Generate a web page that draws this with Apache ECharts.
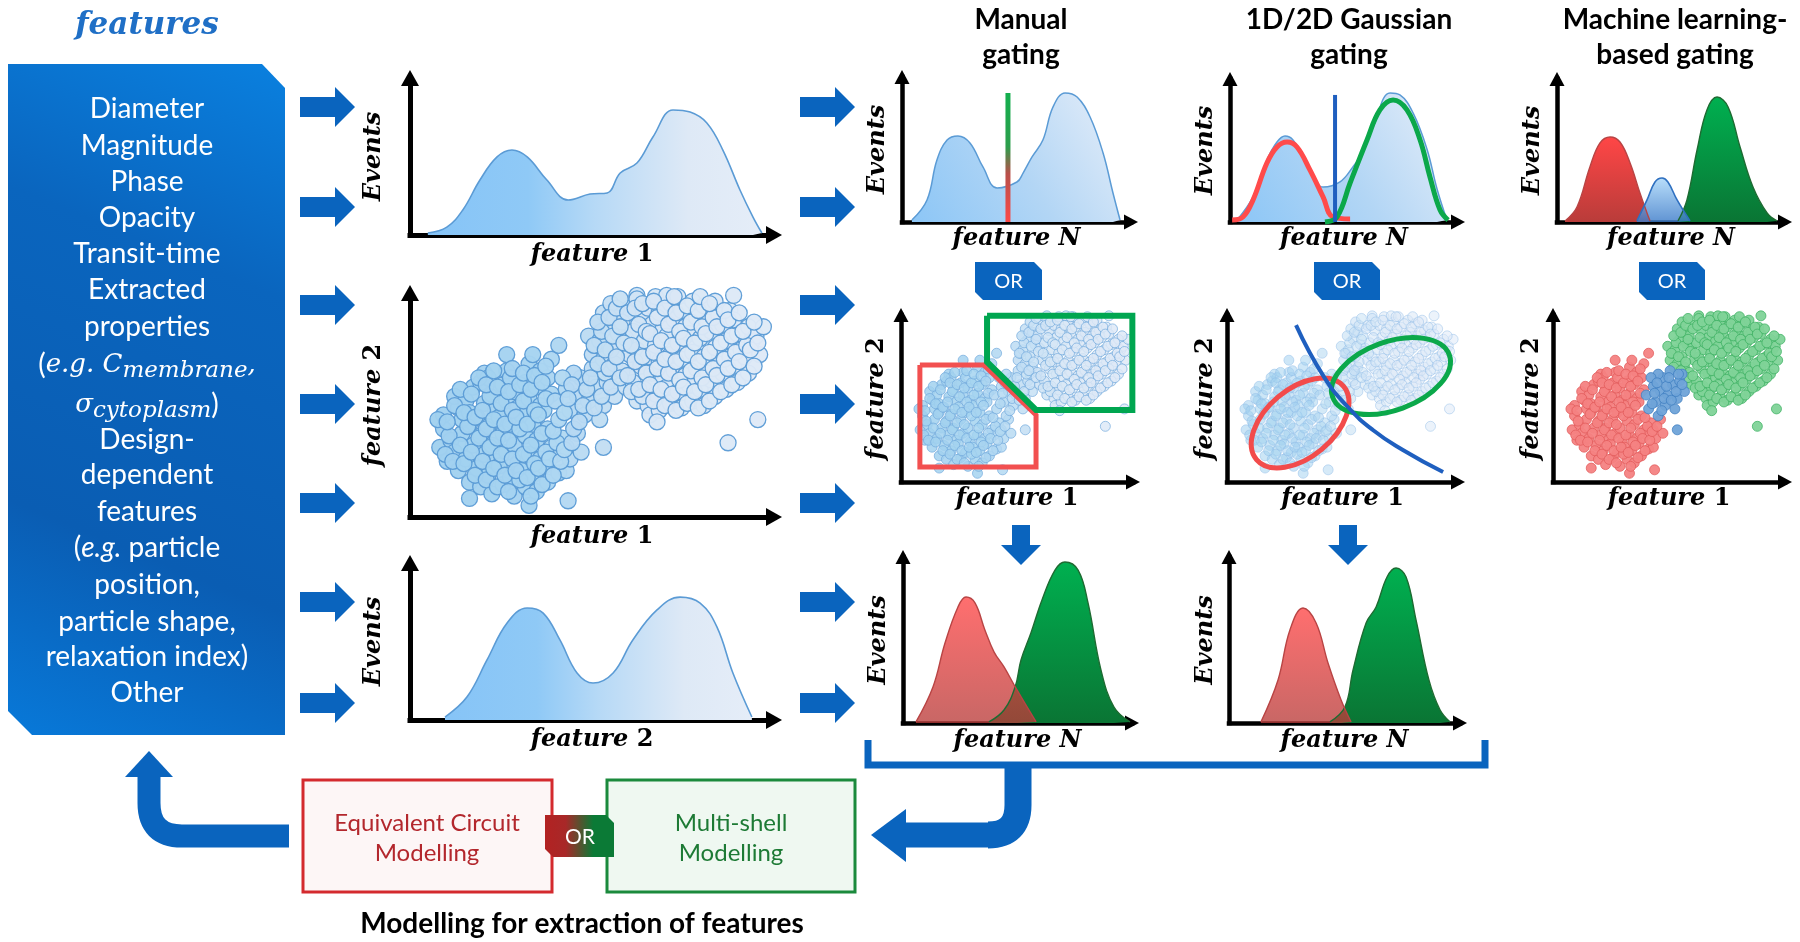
<!DOCTYPE html>
<html><head><meta charset="utf-8">
<script src="https://cdn.jsdelivr.net/npm/echarts@6/dist/echarts.min.js"></script>
<style>html,body{margin:0;padding:0;background:#fff}#c{width:1800px;height:942px}</style>
</head><body><div id="c"></div>
<script>
// ================= DATA =================
const featureLines = ['Diameter','Magnitude','Phase','Opacity','Transit-time','Extracted','properties',
  '{r|(}{m|e.g. C}{s|membrane}{m|,}','{m|σ}{s|cytoplasm}{r|)}','Design-','dependent','features',
  '{r|(}{it|e.g.}{r| particle}','position,','particle shape,','relaxation index)','Other'];
const columnTitles = [['Manual','gating'],['1D/2D Gaussian','gating'],['Machine learning-','based gating']];
const modelBoxes = [['Equivalent Circuit','Modelling'],['Multi-shell','Modelling']];
const modelCaption = 'Modelling for extraction of features';

// density curves [x, y] (x,y in % of axis length)
const hist1 = [[4.8,1.2],[9.9,4.8],[14.2,15.2],[18.8,33.3],[23.4,47.3],[27.4,51.5],[31.5,47.3],[36.8,33.3],[42.5,21.2],[48.4,24.8],[53.0,25.5],[56.5,37.6],[61.0,43.6],[65.3,59.4],[70.7,75.8],[75.3,74.5],[79.8,67.9],[84.1,51.5],[88.7,27.3],[92.2,10.9],[94.6,1.2]];
const hist2 = [[9.4,1.8],[15.3,13.9],[20.7,36.4],[26.1,58.8],[31.5,67.9],[35.8,64.8],[40.3,48.5],[44.9,28.5],[49.2,22.4],[54.6,28.5],[59.9,48.5],[66.4,66.7],[72.6,74.5],[78.0,70.9],[82.5,56.4],[86.8,28.5],[91.9,1.8]];
const histManual = [[4.2,1.3],[10.6,14.5],[14.8,40.8],[19.1,53.9],[23.7,56.6],[28.8,52.0],[34.3,36.2],[40.3,22.4],[48.7,26.3],[51.3,32.2],[55.1,42.8],[59.7,53.9],[64.0,75.7],[69.1,84.9],[74.2,82.2],[79.7,69.1],[85.2,45.4],[89.4,19.1],[92.4,1.3]];
const gateManual = [[44.9,0],[44.9,84.9]];
const histGauss = [[3.0,1.3],[9.8,16.7],[15.7,41.3],[20.0,53.3],[23.4,57.3],[26.8,54.7],[32.8,39.3],[39.6,23.3],[46.8,26.7],[52.3,36.7],[56.2,46.0],[60.9,63.3],[68.1,86.0],[72.3,84.7],[77.9,72.7],[83.8,48.7],[88.1,22.0],[92.3,1.3]];
const fitRed = [[0.9,1.3],[5.5,3.3],[9.8,14.7],[15.7,39.3],[20.0,50.0],[24.3,53.3],[28.5,50.0],[34.0,34.7],[39.6,16.7],[43.8,3.3],[51.1,2.0]];
const fitGreen = [[40.4,0],[45.5,3.3],[51.1,26.0],[58.3,54.7],[63.8,74.7],[69.4,81.3],[75.3,74.7],[80.9,54.7],[85.1,30.0],[89.4,8.0],[92.8,1.3]];
const gateGauss = [[44.7,0],[44.7,84.7]];
const mlRed = [[3.4,0.7],[8.5,10],[14.0,36.7],[18.3,52.7],[22.6,56.7],[26.8,53.3],[31.1,39.3],[35.3,19.3],[38.3,6],[39.6,0.7]];
const mlBlue = [[34.0,0.7],[38.3,14.7],[41.7,26.7],[44.7,29.3],[47.2,26.7],[51.1,14.7],[56.6,0.7]];
const mlGreen = [[51.5,0.7],[55.3,14.7],[59.6,48.0],[63.8,74.7],[68.1,83.3],[72.8,76.7],[77.9,50.0],[83.4,23.3],[89.4,6.0],[93.6,0.7]];
const manualRed = [[5.5,0.6],[12.7,20.8],[17.8,46.2],[23.3,67.1],[26.7,72.8],[30.5,69.4],[34.7,53.8],[38.6,41.0],[42.8,32.4],[48.3,19.1],[56.4,0.6]];
const manualGreen = [[36.4,0.6],[42.8,7.5],[47.5,20.8],[50.0,36.4],[54.2,52.0],[58.9,71.1],[64.4,88.4],[68.6,93.1],[74.2,88.4],[78.4,69.4],[83.9,30.6],[89.4,9.2],[96.2,0.6]];
const gaussRed = [[13.4,0.6],[20.6,24.9],[25.6,53.8],[31.1,66.5],[36.6,57.8],[41.6,34.7],[47.1,13.3],[51.3,0.6]];
const gaussGreen = [[42.4,0.6],[48.7,9.2],[52.1,30.6],[57.6,57.8],[61.8,67.1],[66.4,84.4],[70.2,89.6],[74.4,84.4],[78.6,59.5],[84.0,24.9],[88.7,7.5],[92.9,0.6]];

// scatter populations [feature1, feature2]
const clusterLow = [[8,30],[9,38],[10,24],[9,44],[11,33],[7.5,42],
[13,20],[12,28],[14,36],[13,47],[12,52],[14,42],
[16,15],[15,25],[17,31],[16,40],[15,50],[17,56],[16,45],[16,8],
[19,13],[18,21],[20,27],[19,35],[18,43],[20,49],[19,58],[20,62],
[22,10],[21,18],[23,24],[22,31],[21,39],[23,46],[22,53],[21,60],
[25,14],[24,22],[26,28],[25,36],[24,43],[26,50],[25,57],[26,63],[26,70],
[28,9],[27,17],[29,23],[28,31],[27,40],[29,47],[28,54],[27,60],
[31,13],[30,20],[32,27],[31,35],[30,44],[32,51],[31,58],[32,66],[32,5],
[34,11],[33,18],[35,25],[34,33],[33,40],[35,48],[34,56],[35,63],[33,70],
[37,15],[36,22],[38,30],[37,38],[36,46],[38,53],[37,60],[38,68],
[40,19],[39,27],[41,34],[42,20],[43,25],[42,30],[46,28],[45,36],[42.5,7],[40,74],
[9.5,27],[10.5,35],[10,41],[12,48],[11.5,24],
[14.5,23],[13.5,31],[15.5,39],[14.5,45],[13.5,55],
[17.5,18],[16.5,28],[18.5,34],[17.5,43],[16.5,53],[18.5,60],
[20.5,16],[19.5,24],[21.5,30],[20.5,38],[19.5,46],[21.5,52],[20.5,57],
[23.5,13],[22.5,21],[24.5,27],[23.5,34],[22.5,42],[24.5,49],[23.5,56],[22.5,63],
[26.5,11],[25.5,18],[27.5,25],[26.5,33],[25.5,40],[27.5,46],[26.5,54],[27.5,64],
[29.5,16],[28.5,20],[30.5,27],[29.5,38],[28.5,43],[30.5,50],[29.5,57],[30.5,62],
[32.5,9],[31.5,17],[33.5,23],[32.5,31],[31.5,40],[33.5,46],[32.5,55],[33.5,61],
[35.5,14],[34.5,21],[36.5,28],[35.5,36],[34.5,44],[36.5,51],[35.5,58],[36.5,65],
[38.5,18],[37.5,25],[39.5,32],[38.5,37],[40.5,24],[41.5,29],[43.5,32]];
const clusterMid = [[40,42],[39,50],[43,46],[44,38],[47,44],[42,55],[45,52],[48,50],[46,60],[50,56],[52,48],[49,64],[53,58],[44,62],[41,60],[51,42],[55,52],[54,62],[52,30],
[41.5,45],[45.5,41],[46.5,48],[43.5,57],[47.5,55],[49.5,47],[51.5,52],[48.5,60],[52.5,62],[42.5,51],[54,56]];
const clusterHigh = [[49,70],[48,78],[50,74],
[52,68],[51,76],[53,82],[52,88],
[55,66],[54,72],[56,79],[55,86],[54,92],
[58,56],[57,63],[59,70],[58,77],[57,84],[59,90],[61,95.5],
[61,50],[60,58],[62,65],[61,72],[60,80],[62,87],[61,94],
[64,48],[63,55],[65,62],[64,69],[63,76],[65,83],[64,90],[64.5,44],
[67,46],[66,53],[68,60],[67,67],[66,74],[68,81],[67,88],[66,95],[66.4,41],
[70,49],[69,56],[71,63],[70,70],[69,78],[71,85],[70,92],[69,95.5],
[73,47],[72,54],[74,61],[73,68],[72,75],[74,82],[73,89],[72,95],
[76,50],[75,57],[77,64],[76,71],[75,79],[77,86],[76,93],
[79,48],[78,55],[80,62],[79,69],[78,77],[80,84],[79,91],
[82,52],[81,59],[83,66],[82,73],[81,80],[83,87],[82,93],
[85,55],[84,62],[86,69],[85,76],[84,83],[86,89],[85.5,32],[87,95.5],
[88,58],[87,65],[89,72],[88,79],[87,85],
[91,62],[90,69],[92,76],[91,82],[93.5,42],
[94,70],[93,78],[95,82],
[50.5,66],[49.5,74],[51.5,80],[50.5,84],
[53.5,64],[52.5,72],[54.5,78],[53.5,86],[55.5,90],
[56.5,60],[55.5,69],[57.5,75],[56.5,82],[58.5,88],[56.5,94],
[59.5,54],[58.5,61],[60.5,67],[59.5,74],[61.5,83],[60.5,90],
[62.5,52],[61.5,55],[63.5,62],[62.5,69],[63.5,80],[62.5,92],
[65.5,50],[64.5,57],[66.5,64],[65.5,71],[64.5,79],[66.5,86],[65.5,93],
[68.5,48],[67.5,55],[69.5,62],[68.5,68],[67.5,76],[69.5,83],[68.5,90],
[71.5,46],[70.5,53],[72.5,59],[71.5,67],[70.5,74],[72.5,80],[71.5,88],[71,95],
[74.5,49],[73.5,56],[75.5,63],[74.5,70],[73.5,77],[75.5,84],[74.5,91],
[77.5,47],[76.5,54],[78.5,60],[77.5,67],[76.5,75],[78.5,82],[77.5,89],[78,95],
[80.5,50],[79.5,57],[81.5,64],[80.5,71],[79.5,79],[81.5,86],[80.5,92],
[83.5,54],[82.5,61],[84.5,68],[83.5,75],[82.5,82],[84.5,89],
[86.5,57],[85.5,64],[87.5,71],[86.5,78],[85.5,85],
[89.5,60],[88.5,67],[90.5,74],[89.5,80],[88.5,88],
[92.5,65],[91.5,72],[93.5,75],[92.5,84]];
const allPoints = clusterLow.concat(clusterMid, clusterHigh);

// gates
const gateRedPoly = [[7.9,67.2],[34.7,67.2],[56.5,38.5],[56.5,8.6],[7.9,8.6],[7.9,67.2]];
const gateGreenPoly = [[36.0,95.5],[96.8,95.5],[96.8,41.4],[56.5,41.4],[36.0,69.0],[36.0,95.5]];
// [centerX, centerY, majorAxisEndX, majorAxisEndY, minor/major]
const gaussEllipses = [[30.7,33.9,49.0,54.9,0.6],[68.9,60.9,93.4,73.1,0.55]];
const gaussBoundary = [[29.0,90.2],[40.8,60.3],[50.8,43.1],[61.3,29.9],[73.9,18.4],[90.8,5.7]];

// ================= LAYOUT =================
const big = {al:16, aw:18, lw:5}, small = {al:14, aw:15, lw:4.5};
const panels = [
  Object.assign({ox:410, oy:235, tx:782, ty:70, x:'{i|feature} {n|1}', y:'Events', xg:8, yg:24}, big),
  Object.assign({ox:410, oy:517, tx:782, ty:285, x:'{i|feature} {n|1}', y:'{i|feature} {n|2}', xg:8, yg:24}, big),
  Object.assign({ox:410, oy:720, tx:782, ty:555, x:'{i|feature} {n|2}', y:'Events', xg:8, yg:24}, big),
  Object.assign({ox:902, oy:222, tx:1138, ty:70, x:'{i|feature N}', y:'Events', xg:5, yg:12}, small),
  Object.assign({ox:1230, oy:222, tx:1465, ty:72, x:'{i|feature N}', y:'Events', xg:5, yg:12}, small),
  Object.assign({ox:1557, oy:222, tx:1792, ty:72, x:'{i|feature N}', y:'Events', xg:5, yg:12}, small),
  Object.assign({ox:901, oy:482, tx:1140, ty:308, x:'{i|feature} {n|1}', y:'{i|feature} {n|2}', xg:5, yg:12}, small),
  Object.assign({ox:1227, oy:482, tx:1465, ty:308, x:'{i|feature} {n|1}', y:'{i|feature} {n|2}', xg:5, yg:9}, small),
  Object.assign({ox:1553, oy:482, tx:1792, ty:308, x:'{i|feature} {n|1}', y:'{i|feature} {n|2}', xg:5, yg:9}, small),
  Object.assign({ox:903, oy:723, tx:1139, ty:550, x:'{i|feature N}', y:'Events', xg:6, yg:12}, small),
  Object.assign({ox:1229, oy:723, tx:1467, ty:550, x:'{i|feature N}', y:'Events', xg:6, yg:11}, small)
];
const NF = 24;
const nameStyle = {fontFamily:'DejaVu Serif', fontStyle:'italic', fontWeight:'bold', fontSize:NF, color:'#000',
  rich:{i:{fontFamily:'DejaVu Serif', fontStyle:'italic', fontWeight:'bold', fontSize:NF, color:'#000'},
        n:{fontFamily:'DejaVu Serif', fontStyle:'normal', fontWeight:'bold', fontSize:NF, color:'#000'}}};
const grids=[], xAxes=[], yAxes=[];
panels.forEach((p,i)=>{
  const top=p.ty+p.al/2, width=p.tx-p.al/2-p.ox, height=p.oy-top;
  grids.push({left:p.ox, top:top, width:width, height:height});
  const line = {show:true, onZero:false, symbol:['none','triangle'], symbolSize:[p.aw,p.al],
    lineStyle:{color:'#000', width:p.lw, cap:'square'}};
  const common = {type:'value', gridIndex:i, min:0, axisLine:line, axisTick:{show:false}, axisLabel:{show:false},
    splitLine:{show:false}, nameLocation:'middle', nameTextStyle:nameStyle};
  xAxes.push(Object.assign({}, common, {max:100*width/(p.tx-p.ox), name:p.x, nameGap:p.xg}));
  yAxes.push(Object.assign({}, common, {max:100*height/(p.oy-p.ty), name:p.y, nameGap:p.yg}));
});

// ================= STYLES =================
const lin = (x,y,x2,y2,stops)=>({type:'linear',x:x,y:y,x2:x2,y2:y2,colorStops:stops.map(s=>({offset:s[0],color:s[1]}))});
const blueFillH = lin(0,0,1,0,[[0,'#86C4F7'],[0.3,'#8FC9F6'],[0.5,'#B6D9F6'],[0.78,'#DEE9F6'],[1,'#E5EDF8']]);
const blueFillD = ()=>lin(0,1,1,0,[[0,'#8CC6F6'],[0.5,'#B3D6F5'],[1,'#E6EEF9']]);
const redFill = (a)=>lin(0,0,0,1,[[0,'rgba(255,70,70,'+a+')'],[1,'rgba(185,60,58,'+a+')']]);
const greenFill = lin(0,0,0,1,[[0,'#00B050'],[1,'#0A7534']]);
const blueDrop = lin(0,0,0,1,[[0,'#A8D6F9'],[1,'#3D7CC9']]);

function area(i, data, fill, stroke, lw){
  return {type:'line', xAxisIndex:i, yAxisIndex:i, data:data, smooth:0.4, symbol:'none', clip:false,
    lineStyle:{color:stroke, width:lw||1.5}, areaStyle:{color:fill, opacity:1}, z:2};
}
function stroke(i, data, color, w, smooth, z){
  return {type:'line', xAxisIndex:i, yAxisIndex:i, data:data, smooth:smooth||false, symbol:'none', clip:false,
    lineStyle:{color:color, width:w, join:'miter'}, z:z||3};
}
function dots(i, data, size, fill, border, bw, op){
  const s = {type:'scatter', xAxisIndex:i, yAxisIndex:i, data:data, symbolSize:size, clip:false,
    itemStyle:{borderColor:border, borderWidth:bw, opacity:op}};
  if (fill) s.itemStyle.color = fill;
  return s;
}

const series = [
  area(0, hist1, blueFillH, '#5B9BD5', 1.6),                        //0
  dots(1, allPoints, 16, null, '#5B9BD5', 1.3, 0.96),              //1
  area(2, hist2, blueFillH, '#5B9BD5', 1.6),                        //2
  area(3, histManual, blueFillD(), '#5B9BD5', 1.5),                 //3
  stroke(3, gateManual, lin(0,0,0,1,[[0,'#12B04E'],[0.42,'#2C9E4C'],[0.62,'#B8504A'],[1,'#FF4848']]), 5, false, 4), //4
  area(4, histGauss, blueFillD(), '#5B9BD5', 1.5),                  //5
  stroke(4, fitRed, '#FF4B4B', 5, 0.4),                             //6
  stroke(4, fitGreen, '#0BA84A', 5, 0.4),                           //7
  stroke(4, gateGauss, '#1F5FBF', 4, false, 4),                     //8
  area(5, mlRed, redFill(1), '#B84444', 1.4),                       //9
  area(5, mlGreen, greenFill, '#1E6B32', 1.4),                      //10
  Object.assign(area(5, mlBlue, blueDrop, '#2F70C0', 1.6), {areaStyle:{color:blueDrop, opacity:0.82}}), //11
  dots(6, allPoints, 10, null, '#6FA8DC', 0.8, 0.85),               //12
  stroke(6, gateRedPoly, '#F25050', 5),                             //13
  stroke(6, gateGreenPoly, '#00A650', 6),                           //14
  dots(7, allPoints, 10, null, '#8AB8E6', 0.8, 0.55),               //15
  {type:'custom', xAxisIndex:7, yAxisIndex:7, data:gaussEllipses, clip:false, z:4,
   encode:{x:[0,2], y:[1,3]},
   renderItem:function(params, api){
     const c = api.coord([api.value(0), api.value(1)]);
     const e = api.coord([api.value(2), api.value(3)]);
     const dx = e[0]-c[0], dy = e[1]-c[1];
     const a = Math.hypot(dx,dy);
     return {type:'ellipse', x:c[0], y:c[1], rotation:-Math.atan2(dy,dx),
       shape:{cx:0, cy:0, rx:a, ry:a*api.value(4)},
       style:{fill:'none', stroke: params.dataIndex===0 ? '#F24B4B' : '#0BA84A', lineWidth:5}};
   }},                                                                //16
  stroke(7, gaussBoundary, '#1F5FBF', 4, 0.5, 4),                   //17
  dots(8, clusterLow, 10, '#F48282', '#E25A5A', 0.8, 0.95),         //18
  dots(8, clusterHigh, 10, '#7FD398', '#3DB062', 0.8, 0.95),        //19
  dots(8, clusterMid, 10, '#6FA3D8', '#3F7EC0', 0.8, 0.95),         //20
  area(9, manualGreen, greenFill, '#1E6B32', 1.4),                  //21
  area(9, manualRed, redFill(0.78), '#B84444', 1.4),                //22
  area(10, gaussGreen, greenFill, '#1E6B32', 1.4),                  //23
  area(10, gaussRed, redFill(0.78), '#B84444', 1.4)                 //24
];

// ================= GRAPHIC ELEMENTS =================
const BLUE = '#0A64BE';
const G = [];
function txt(x, y, text, o){ return {type:'text', x:x, y:y, z:10, style:Object.assign({text:text, align:'center', verticalAlign:'middle', fill:'#000', fontFamily:'Lato', fontSize:25}, o||{})}; }
function poly(points, fill, z){ return {type:'polygon', z:z||5, shape:{points:points}, style:{fill:fill}}; }
function rightArrow(x0, yc){ return poly([[x0,yc-10],[x0+35,yc-10],[x0+35,yc-20],[x0+55,yc],[x0+35,yc+20],[x0+35,yc+10],[x0,yc+10]], BLUE); }
function downArrow(xc, y0){ return poly([[xc-9,y0],[xc+9,y0],[xc+9,y0+20],[xc+20,y0+20],[xc,y0+40],[xc-20,y0+20],[xc-9,y0+20]], BLUE); }
function badge(x0,y0,x1,y1,c,fill){ return poly([[x0,y0],[x1-c,y0],[x1,y0+c],[x1,y1],[x0+c,y1],[x0,y1-c]], fill); }

G.push(txt(147, 26, 'features', {fontFamily:'DejaVu Serif', fontStyle:'italic', fontWeight:'bold', fontSize:31, fill:'#1F6FC6'}));
G.push(poly([[8,64],[262,64],[285,88],[285,735],[32,735],[8,711]],
  lin(1,0,0,1,[[0,'#0A80DF'],[0.3,'#0A65BE'],[0.7,'#0A5DB3'],[1,'#0879D9']]), 1));
const lineY = [109,146,182,218,254,290,327,365,405,440,475,512,548,585,622,657,693];
const W = '#fff';
const rich = {
  r:{fontFamily:'Lato', fontSize:28, fill:W, lineHeight:36},
  it:{fontFamily:'Lato', fontStyle:'italic', fontSize:28, fill:W, lineHeight:36},
  m:{fontFamily:'DejaVu Serif', fontStyle:'italic', fontSize:26, fill:W, lineHeight:36},
  s:{fontFamily:'DejaVu Serif', fontStyle:'italic', fontSize:23, fill:W, lineHeight:16, verticalAlign:'bottom'}
};
featureLines.forEach((t,k)=>G.push(txt(147, lineY[k], t, {fill:W, fontSize:28, lineHeight:36, rich:rich})));

[107,207,305,404,503,602,703].forEach(y=>{ G.push(rightArrow(300,y)); G.push(rightArrow(800,y)); });
G.push(downArrow(1021,525)); G.push(downArrow(1348,525));

[[975,1042],[1314,1380],[1639,1705]].forEach(b=>{
  G.push(badge(b[0],262,b[1],300,8,BLUE));
  G.push(txt((b[0]+b[1])/2, 282, 'OR', {fill:W, fontSize:20}));
});
[1021,1349,1675].forEach((x,k)=>{
  G.push(txt(x, 20, columnTitles[k][0], {fontWeight:'bold', fontSize:28}));
  G.push(txt(x, 55, columnTitles[k][1], {fontWeight:'bold', fontSize:28}));
});

// bracket and flow arrows
G.push({type:'polyline', z:5, shape:{points:[[868,740],[868,765],[1485,765],[1485,740]]}, style:{stroke:BLUE, lineWidth:7, fill:null, lineJoin:'miter'}});
G.push({type:'line', z:5, shape:{x1:1018,y1:766,x2:1018,y2:805}, style:{stroke:BLUE, lineWidth:27}});
G.push({type:'bezierCurve', z:5, shape:{x1:1018,y1:805,cpx1:1018,cpy1:835,x2:988,y2:835}, style:{stroke:BLUE, lineWidth:27, fill:null}});
G.push({type:'line', z:5, shape:{x1:988,y1:835,x2:905,y2:835}, style:{stroke:BLUE, lineWidth:25}});
G.push(poly([[906,809],[906,862],[871,835]], BLUE));
G.push({type:'line', z:5, shape:{x1:289,y1:836,x2:182,y2:836}, style:{stroke:BLUE, lineWidth:23}});
G.push({type:'bezierCurve', z:5, shape:{x1:182,y1:836,cpx1:149,cpy1:836,x2:149,y2:803}, style:{stroke:BLUE, lineWidth:23, fill:null}});
G.push({type:'line', z:5, shape:{x1:149,y1:803,x2:149,y2:776}, style:{stroke:BLUE, lineWidth:23}});
G.push(poly([[125,777],[173,777],[149,751]], BLUE));

// modelling boxes
G.push({type:'rect', z:5, shape:{x:303,y:780,width:249,height:112}, style:{fill:'#FDF6F6', stroke:'#D42A2E', lineWidth:3}});
G.push({type:'rect', z:5, shape:{x:607,y:780,width:248,height:112}, style:{fill:'#EFF8F1', stroke:'#1B8A3C', lineWidth:3}});
G.push(txt(427, 823, modelBoxes[0][0], {fill:'#B3272D', fontSize:24}));
G.push(txt(427, 853, modelBoxes[0][1], {fill:'#B3272D', fontSize:24}));
G.push(txt(731, 823, modelBoxes[1][0], {fill:'#1D7A35', fontSize:24}));
G.push(txt(731, 853, modelBoxes[1][1], {fill:'#1D7A35', fontSize:24}));
G.push(badge(545,815,614,857,8, lin(0,0,1,0,[[0,'#B22222'],[0.3,'#A82828'],[0.7,'#0B7A36'],[1,'#0B7A36']])));
G.push(txt(580, 837, 'OR', {fill:W, fontSize:21}));
G.push(txt(582, 924, modelCaption, {fontWeight:'bold', fontSize:28}));

// ================= CHART =================
const chart = echarts.init(document.getElementById('c'), null, {renderer:'canvas'});
chart.setOption({
  animation:false,
  backgroundColor:'#fff',
  grid:grids, xAxis:xAxes, yAxis:yAxes,
  visualMap:[{type:'continuous', show:false, dimension:0, min:0, max:100, seriesIndex:[1,12,15],
    inRange:{color:['#9ECFEE','#A6D3F0','#D9E7F6','#E0EAF7']}}],
  series:series,
  graphic:{elements:G}
});
</script></body></html>
